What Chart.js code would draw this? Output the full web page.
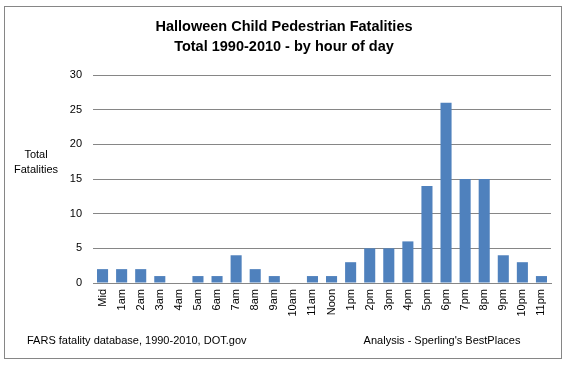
<!DOCTYPE html>
<html>
<head>
<meta charset="utf-8">
<script src="https://cdn.jsdelivr.net/npm/chart.js@4/dist/chart.umd.min.js"></script>
<style>
html,body{margin:0;padding:0;background:#fff;}
#wrap{width:568px;height:366px;position:relative;}
</style>
</head>
<body>
<div id="wrap"><canvas id="c" width="568" height="366"></canvas></div>
<script>
const categories = ["Mid","1am","2am","3am","4am","5am","6am","7am","8am","9am","10am","11am","Noon","1pm","2pm","3pm","4pm","5pm","6pm","7pm","8pm","9pm","10pm","11pm"];
const fatalities = [2,2,2,1,0,1,1,4,2,1,0,1,1,3,5,5,6,14,26,15,15,4,3,1];
const yTicks = [0,5,10,15,20,25,30];
const titleLines = ["Halloween Child Pedestrian Fatalities","Total 1990-2010 - by hour of day"];
const yTitleLines = ["Total","Fatalities"];
const sourceNote = "FARS fatality database, 1990-2010, DOT.gov";
const analysisNote = "Analysis - Sperling's BestPlaces";

const FONT = "'Liberation Sans', Arial, sans-serif";

const extras = {
  id: 'extras',
  afterDraw(chart) {
    const ctx = chart.ctx;
    ctx.save();
    ctx.strokeStyle = '#868686';
    ctx.lineWidth = 1;
    ctx.strokeRect(4.5, 6.5, 557, 352);
    ctx.fillStyle = '#000';
    ctx.textBaseline = 'middle';
    ctx.textAlign = 'center';
    ctx.font = 'bold 14.5px ' + FONT;
    ctx.fillText(titleLines[0], 284, 27);
    ctx.fillText(titleLines[1], 284, 47);
    ctx.font = '11px ' + FONT;
    ctx.fillText(yTitleLines[0], 36, 155);
    ctx.fillText(yTitleLines[1], 36, 170);
    ctx.fillText(analysisNote, 442, 341);
    ctx.textAlign = 'left';
    ctx.fillText(sourceNote, 27, 341);
    ctx.restore();
  }
};

new Chart(document.getElementById('c'), {
  type: 'bar',
  data: {
    labels: categories,
    datasets: [{
      data: fatalities,
      backgroundColor: '#4F81BD',
      borderWidth: 0,
      barPercentage: 0.58,
      categoryPercentage: 1.0
    }]
  },
  options: {
    responsive: false,
    animation: false,
    layout: { padding: { left: 63, right: 17, top: 75, bottom: 43 } },
    plugins: {
      legend: { display: false },
      tooltip: { enabled: false },
      title: { display: false }
    },
    scales: {
      x: {
        grid: { display: false, drawTicks: false },
        border: { display: true, color: '#868686', width: 1 },
        ticks: {
          color: '#000',
          font: { family: FONT, size: 11 },
          minRotation: 90, maxRotation: 90,
          autoSkip: false,
          padding: 6
        },
        afterFit(s) { s.height = 40; }
      },
      y: {
        min: 0, max: 30,
        afterBuildTicks(s) { s.ticks = yTicks.map(v => ({ value: v })); },
        grid: { color: '#868686', lineWidth: 1, drawTicks: false },
        border: { display: false },
        ticks: {
          color: '#000',
          font: { family: FONT, size: 11 },
          padding: 11
        },
        afterFit(s) { s.width = 30; }
      }
    }
  },
  plugins: [extras]
});
</script>
</body>
</html>
